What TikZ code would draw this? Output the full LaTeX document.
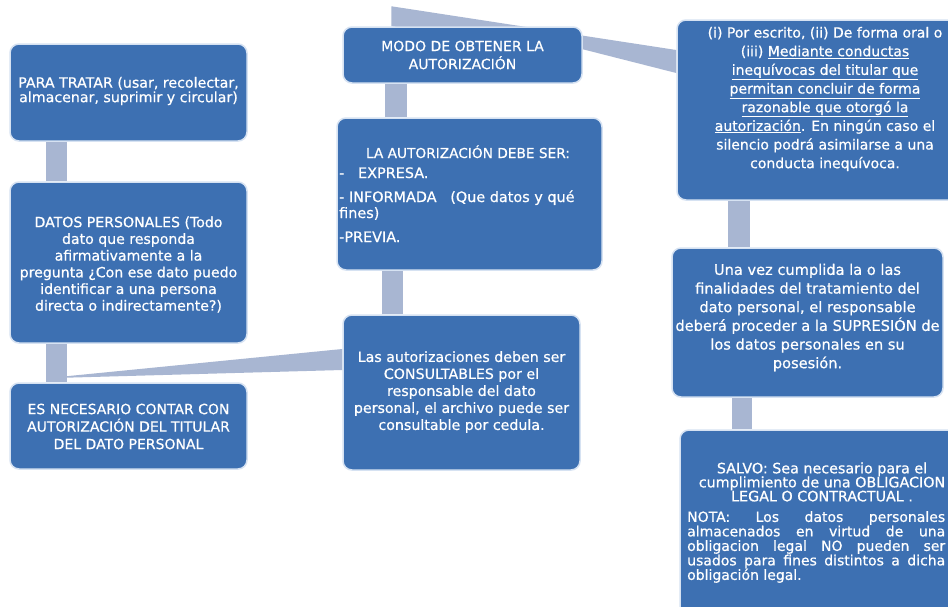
\documentclass[tikz,border=0pt]{standalone}
\usepackage{fontspec}
\setmainfont{DejaVu Sans}[FakeBold=0.6]
\usetikzlibrary{backgrounds}
\definecolor{boxblue}{RGB}{61,112,178}
\definecolor{boxedge}{RGB}{214,226,242}
\definecolor{connc}{RGB}{168,182,210}
\begin{document}
\begin{tikzpicture}[x=1pt,y=-1pt,
  box/.style={draw=boxedge,line width=1.5pt,fill=boxblue,rounded corners=9pt,inner sep=0pt},
  txt/.style={text=white,align=center,inner sep=0pt,font=\fontsize{14}{17}\selectfont},
  conn/.style={draw=connc,line width=21pt},
  wedge/.style={fill=connc}]
\useasboundingbox (0,0) rectangle (948,606);
\clip (0,0) rectangle (948,606);

% coordinates for the vertical connector bars
\coordinate (xl) at (56.5,0);
\coordinate (xmA) at (392.5,0);
\coordinate (xmB) at (396,0);
\coordinate (xrA) at (739,0);
\coordinate (xrB) at (742,0);

% boxes
\node[box,minimum width=237pt,minimum height=97pt] (A) at (128.5,92.5) {};
\node[box,minimum width=237pt,minimum height=161pt] (B) at (128.5,262.5) {};
\node[box,minimum width=237pt,minimum height=86pt] (C) at (128.5,426) {};
\node[box,minimum width=239pt,minimum height=56pt] (D) at (462.5,55) {};
\node[box,minimum width=265pt,minimum height=152pt] (F) at (469.5,194) {};
\node[box,minimum width=237pt,minimum height=155pt] (G) at (461.5,392.5) {};
\node[box,minimum width=296pt,minimum height=180pt] (E) at (825,110) {};
\node[box,minimum width=271pt,minimum height=149pt] (H) at (807.5,322.5) {};
\node[box,minimum width=284pt,minimum height=190pt] (I) at (822,525) {};

% connectors behind the boxes
\begin{pgfonlayer}{background}
  \fill[white] (0,0) rectangle (948,606);
  \draw[conn] (A.south -| xl) -- (B.north -| xl);
  \draw[conn] (B.south -| xl) -- (C.north -| xl);
  \fill[wedge] ([shift={(37,-4)}]C.north west) -- ([shift={(57,-6)}]C.north west)
     -- ([shift={(0,-43.5)}]G.west) -- ([shift={(0,-22.5)}]G.west) -- cycle;
  \draw[conn] (G.north -| xmA) -- (F.south -| xmA);
  \draw[conn,line width=22pt] (F.north -| xmB) -- (D.south -| xmB);
  \fill[wedge] ([shift={(49,-20)}]D.north west) -- ([shift={(0,-60)}]E.west)
     -- ([shift={(0,-37)}]E.west) -- ([shift={(0,23)}]D.north east)
     -- ([shift={(49,0)}]D.north west) -- cycle;
  \draw[conn,line width=22pt] (E.south -| xrA) -- (H.north -| xrA);
  \draw[conn,line width=20pt] (H.south -| xrB) -- (I.north -| xrB);
\end{pgfonlayer}

% texts
\node[txt,font=\fontsize{14.2}{14.5}\selectfont] (At) at (128.5,91)
  {PARA TRATAR (usar, recolectar,\\almacenar, suprimir y circular)};
\node[txt,font=\fontsize{14.1}{16.7}\selectfont] (Bt) at (128.5,264.5)
  {DATOS PERSONALES (Todo\\dato que responda\\afirmativamente a la\\pregunta ¿Con ese dato puedo\\identificar a una persona\\directa o indirectamente?)};
\node[txt,font=\fontsize{14}{17.5}\selectfont] (Ct) at (128.5,426.5)
  {ES NECESARIO CONTAR CON\\AUTORIZACIÓN DEL TITULAR\\DEL DATO PERSONAL};
\node[txt,font=\fontsize{14}{18}\selectfont] (Dt) at (462.5,55)
  {MODO DE OBTENER LA\\AUTORIZACIÓN};
\node[txt,anchor=base,font=\fontsize{13.7}{16}\selectfont] (Ft1) at (468,158) {LA AUTORIZACIÓN DEBE SER:};
\node[txt,anchor=base west,font=\fontsize{14.4}{16}\selectfont] (Ft2) at (339,178) {-\ \ \ EXPRESA.};
\node[txt,anchor=base west,font=\fontsize{14.4}{16}\selectfont] (Ft3) at (339,202) {- INFORMADA\ \ \ (Que datos y qué};
\node[txt,anchor=base west,font=\fontsize{14.4}{16}\selectfont] (Ft4) at (339,218) {fines)};
\node[txt,anchor=base west,font=\fontsize{14.4}{16}\selectfont] (Ft5) at (339,242) {-PREVIA.};
\node[txt,font=\fontsize{14.2}{17}\selectfont] (Gt) at (461.5,392)
  {Las autorizaciones deben ser\\CONSULTABLES por el\\responsable del dato\\personal, el archivo puede ser\\consultable por cedula.};
\node[txt,font=\fontsize{14}{18.66}\selectfont] (Et) at (825,99)
  {(i) Por escrito, (ii) De forma oral o\\(iii) \underline{Mediante conductas}\\\underline{inequívocas del titular que}\\\underline{permitan concluir de forma}\\\underline{razonable que otorgó la}\\\underline{autorización}. En ningún caso el\\silencio podrá asimilarse a una\\conducta inequívoca.};
\node[txt,font=\fontsize{14.6}{18.67}\selectfont] (Ht) at (807.5,317.5)
  {Una vez cumplida la o las\\finalidades del tratamiento del\\dato personal, el responsable\\deberá proceder a la SUPRESIÓN de\\los datos personales en su\\posesión.};
\node[txt,font=\fontsize{14.3}{14}\selectfont] (It1) at (822,482)
  {SALVO: Sea necesario para el\\cumplimiento de una OBLIGACION\\LEGAL O CONTRACTUAL .};
\node[txt,align=left,anchor=west,font=\fontsize{14}{14.5}\selectfont] (It2) at (687,547)
  {\makebox[258pt][s]{NOTA: Los datos personales}\\
   \makebox[258pt][s]{almacenados en virtud de una}\\
   \makebox[258pt][s]{obligacion legal NO pueden ser}\\
   \makebox[258pt][s]{usados para fines distintos a dicha}\\
   \makebox[258pt][l]{obligación legal.}};
\end{tikzpicture}
\end{document}
